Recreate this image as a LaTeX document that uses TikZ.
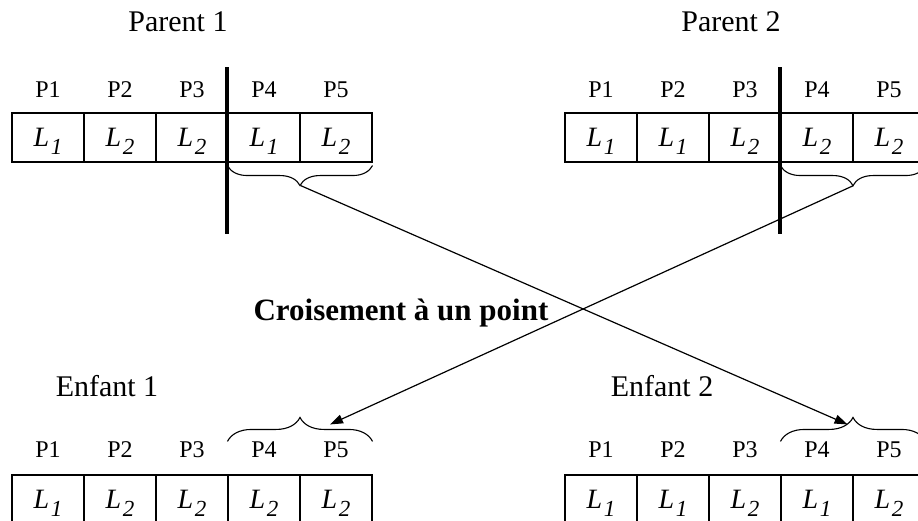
\documentclass[tikz,border=0pt]{standalone}
\usepackage{fontspec}
\setmainfont{Liberation Serif}
\usetikzlibrary{arrows.meta, positioning, decorations.pathreplacing, calc}

\newcommand{\Lgene}[1]{\textit{L}\kern1.5pt\smash{\raisebox{-8pt}{\fontsize{23}{23}\selectfont\textit{#1}}}}

\begin{document}
\begin{tikzpicture}[x=1pt, y=-1pt,
  cell/.style={draw, line width=1.1pt, minimum width=72pt, minimum height=49pt,
    inner sep=0pt, font=\fontsize{28}{28}\selectfont},
  plabel/.style={font=\fontsize{24}{24}\selectfont},
  title/.style={font=\fontsize{30}{30}\selectfont},
  cutline/.style={line width=4pt},
  crossbrace/.style={decorate, decoration={brace, amplitude=#1}, line width=1.1pt},
  crossarrow/.style={line width=1.2pt, -{Triangle[length=13pt, width=9pt]}}]
  \useasboundingbox (0,0) rectangle (918,521);
  % titles
  \node[title] (par1) at (178,22) {Parent 1};
  \node[title] (par2) at (731,22) {Parent 2};
  \node[title] (enf1) at (107,386) {Enfant 1};
  \node[title] (enf2) at (662,386) {Enfant 2};
  % chromosomes
  \foreach \row/\x/\y/\ly/\genes in {
    p1/48/137.5/90/{1,2,2,1,2},
    p2/601/137.5/90/{1,1,2,2,2},
    e1/48/499.5/450/{1,2,2,2,2},
    e2/601/499.5/450/{1,1,2,1,2}}
  {
    \foreach \g [count=\i] in \genes {
      \node[cell] (\row-\i) at (\x+72*\i-72,\y) {\Lgene{\g}};
      \node[plabel] (\row-l\i) at (\x+72*\i-72,\ly) {P\i};
    }
  }
  % crossing points
  \draw[cutline] ([yshift=45pt]p1-4.north west) -- ([yshift=-71pt]p1-4.south west);
  \draw[cutline] ([yshift=45pt]p2-4.north west) -- ([yshift=-71pt]p2-4.south west);
  % braces
  \draw[crossbrace=20pt] ([yshift=-3pt]p1-5.south east) -- ([yshift=-3pt]p1-4.south west);
  \draw[crossbrace=20pt] ([yshift=-3pt]p2-5.south east) -- ([yshift=-3pt]p2-4.south west);
  \draw[crossbrace=24pt] ([yshift=33pt]e1-4.north west) -- ([yshift=33pt]e1-5.north east);
  \draw[crossbrace=24pt] ([yshift=33pt]e2-4.north west) -- ([yshift=33pt]e2-5.north east);
  \coordinate (p1tip) at ($(p1-4.south east)+(0,23)$);
  \coordinate (p2tip) at ($(p2-4.south east)+(0,23)$);
  \coordinate (e1hit) at ($(e1-5.north)+(-6,-50)$);
  \coordinate (e2hit) at ($(e2-4.north east)+(-6,-50)$);
  % exchange
  \draw[crossarrow] (p1tip) -- (e2hit);
  \draw[crossarrow] (p2tip) -- (e1hit);
  \node[font=\bfseries\fontsize{31}{31}\selectfont] (xlabel) at (401,313) {Croisement à un point};
\end{tikzpicture}
\end{document}
